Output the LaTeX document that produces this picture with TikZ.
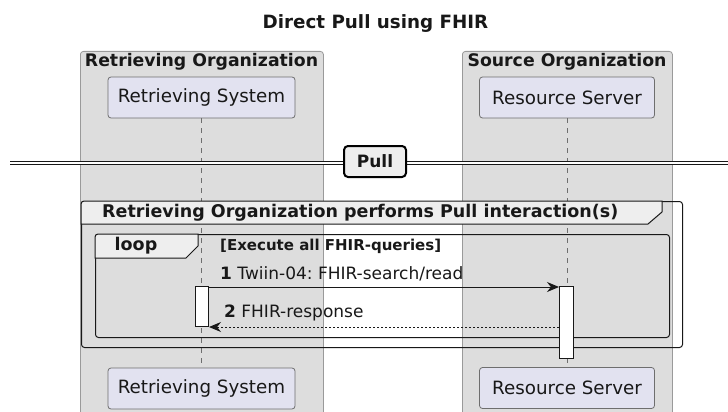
\documentclass[tikz,border=0pt]{standalone}
\usepackage{fontspec}
\setmainfont{DejaVu Sans}
\usetikzlibrary{arrows.meta}
\definecolor{orgfill}{HTML}{DDDDDD}
\definecolor{orgdraw}{HTML}{9A9A9A}
\definecolor{partfill}{HTML}{E2E2F0}
\definecolor{partdraw}{HTML}{6E6E6E}
\definecolor{tabfill}{HTML}{EEEEEE}
\definecolor{ink}{HTML}{181818}
\frenchspacing
\begin{document}
\begin{tikzpicture}[x=1pt,y=-1pt,
  orgbox/.style={draw=orgdraw, fill=orgfill, rounded corners=3pt, line width=0.8pt, inner sep=0pt, anchor=north west},
  orgtitle/.style={font=\fontsize{17.3}{20}\selectfont\bfseries, text=ink, inner sep=0pt},
  partbox/.style={draw=partdraw, fill=partfill, rounded corners=3pt, line width=0.8pt, minimum height=41pt, font=\fontsize{18.3}{22}\selectfont, text=ink, inner sep=0pt},
  lifeline/.style={draw=partdraw, dash pattern=on 5pt off 5pt, line width=0.8pt},
  framebox/.style={draw=ink, rounded corners=3pt, line width=1pt, inner sep=0pt, anchor=north west},
  tabshape/.style={draw=ink, fill=tabfill, line width=1pt},
  tabtext/.style={font=\fontsize{17.5}{20}\selectfont\bfseries, text=ink, inner sep=0pt},
  actbox/.style={draw=ink, fill=white, line width=1pt, inner sep=0pt, anchor=north west},
  msg/.style={draw=ink, line width=1pt, -{Stealth[length=12pt,width=10pt]}},
  reply/.style={msg, dash pattern=on 2pt off 2pt},
  lbl/.style={font=\fontsize{17}{20}\selectfont, text=ink, inner sep=0pt, anchor=west}]
\useasboundingbox (0,0) rectangle (728,412);
% title
\node[font=\fontsize{18.3}{22}\selectfont\bfseries, text=ink, inner sep=0pt] (title) at (375.5,24) {Direct Pull using FHIR};
% organization boxes
\node[orgbox, minimum width=243pt, minimum height=380pt] (rorg) at (80,51) {};
\node[orgbox, minimum width=210pt, minimum height=380pt] (sorg) at (462,51) {};
\node[orgtitle] (rorgt) at (201.5,61.5) {Retrieving Organization};
\node[orgtitle] (sorgt) at (567,61.5) {Source Organization};
% participants
\node[partbox, minimum width=187pt] (rs1) at (201.5,97.5) {Retrieving System};
\node[partbox, minimum width=175pt] (rsv1) at (567,97.5) {Resource Server};
\node[partbox, minimum width=187pt] (rs2) at (201.5,388.5) {Retrieving System};
\node[partbox, minimum width=175pt] (rsv2) at (567,388) {Resource Server};
\draw[lifeline] (rs1.south) -- (rs2.north);
\draw[lifeline] (rsv1.south) -- (rsv2.north);
% divider
\coordinate (dl) at (10,163);
\coordinate (dr) at (730,163);
\draw[draw=ink, double=white, double distance=2pt, line width=1.2pt] (dl) -- (dr);
\node[draw=black, fill=tabfill, line width=2pt, rounded corners=4pt, minimum width=62pt, minimum height=31pt, inner sep=0pt, font=\fontsize{17}{20}\selectfont\bfseries, text=ink] (pull) at (375,161.5) {Pull};
% outer group frame
\node[framebox, minimum width=601pt, minimum height=146pt] (grp) at (81,201) {};
\path[tabshape] (81,224) [rounded corners=3pt] -- (grp.north west) [sharp corners] -- (662,201) -- (662,212) -- (648,224) -- cycle;
\node[tabtext, anchor=west] (grpt) at (102,213) {Retrieving Organization performs Pull interaction(s)};
% loop frame
\node[framebox, minimum width=574pt, minimum height=103pt] (loop) at (95,234) {};
\path[tabshape] (95,258) [rounded corners=3pt] -- (loop.north west) [sharp corners] -- (198,234) -- (198,246) -- (186,258) -- cycle;
\node[tabtext] (loopt) at (136,246) {loop};
\node[font=\fontsize{15}{18}\selectfont\bfseries, text=ink, inner sep=0pt, anchor=west] (cond) at (220,246) {[Execute all FHIR-queries]};
% activations
\node[actbox, minimum width=13pt, minimum height=40pt] (a1) at (195,286) {};
\node[actbox, minimum width=14pt, minimum height=72pt] (a2) at (559,286) {};
% messages
\draw[msg] ([yshift=-1pt]a1.north east) -- ([yshift=-1pt]a2.north west);
\draw[reply] (a2.west |- a1.south) -- (a1.south east);
\node[lbl] (m1) at (220,274) {\textbf{1} Twiin-04: FHIR-search/read};
\node[lbl] (m2) at (224,313) {\textbf{2} FHIR-response};
\end{tikzpicture}
\end{document}
